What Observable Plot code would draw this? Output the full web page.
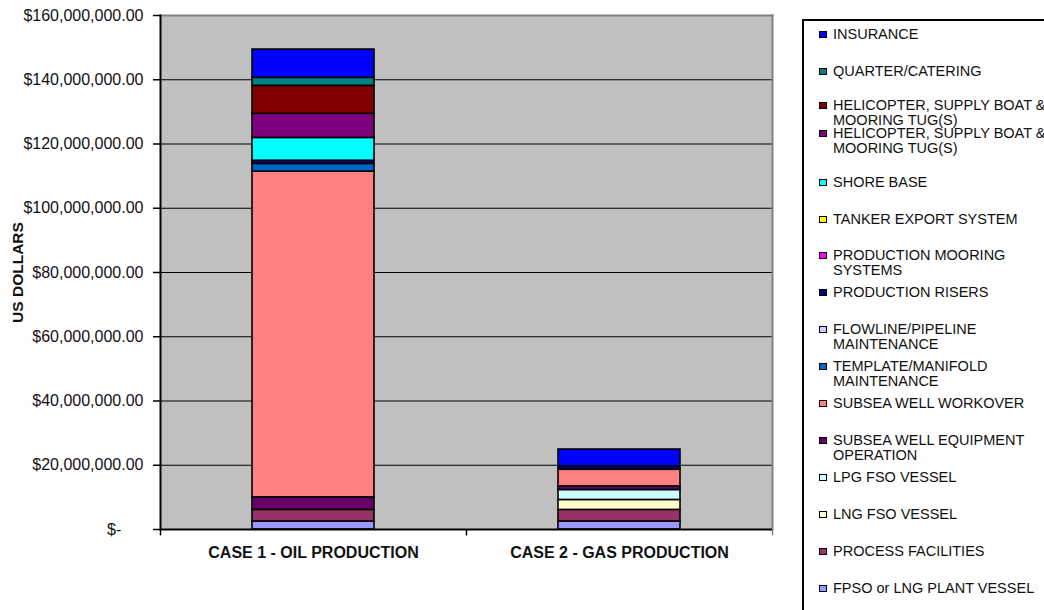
<!DOCTYPE html>
<html>
<head>
<meta charset="utf-8">
<script src="https://cdn.jsdelivr.net/npm/d3@7"></script>
<script src="https://cdn.jsdelivr.net/npm/@observablehq/plot@0.6"></script>
<style>
  html, body { margin: 0; padding: 0; background: #fff; overflow: hidden; }
  #chart { position: relative; width: 1044px; height: 610px; font-family: Arial, "Liberation Sans", sans-serif; }
  #chart svg { position: absolute; left: 0; top: 0; }
  #legend { position: absolute; left: 802px; top: 19px; width: 300px; height: 640px;
            border: 2px solid #000; box-sizing: border-box; background: #fff; }
  .item { position: absolute; left: 15px; display: flex; align-items: flex-start; }
  .swatch { width: 6px; height: 5px; border: 1.5px solid #000; margin-top: 4px; margin-right: 6px; flex: none; }
  .label { width: 222px; font-size: 14.5px; line-height: 15px; color: #111; }
</style>
</head>
<body>
<div id="chart"></div>
<script>
// Cases along the x axis
const cases = ["CASE 1 - OIL PRODUCTION", "CASE 2 - GAS PRODUCTION"];

// Cost items, listed from the bottom of each stack to the top
const costItems = [
  "FPSO or LNG PLANT VESSEL",
  "PROCESS FACILITIES",
  "LNG FSO VESSEL",
  "LPG FSO VESSEL",
  "SUBSEA WELL EQUIPMENT OPERATION",
  "SUBSEA WELL WORKOVER",
  "TEMPLATE/MANIFOLD MAINTENANCE",
  "FLOWLINE/PIPELINE MAINTENANCE",
  "PRODUCTION RISERS",
  "PRODUCTION MOORING SYSTEMS",
  "TANKER EXPORT SYSTEM",
  "SHORE BASE",
  "HELICOPTER, SUPPLY BOAT & MOORING TUG(S)",
  "HELICOPTER, SUPPLY BOAT & MOORING TUG(S)",
  "QUARTER/CATERING",
  "INSURANCE"
];

const itemColors = [
  "#9999FF", "#993366", "#FFFFCC", "#CCFFFF", "#660066", "#FF8080",
  "#0066CC", "#CCCCFF", "#000080", "#FF00FF", "#FFFF00", "#00FFFF",
  "#800080", "#800000", "#008080", "#0000FF"
];

// Annual costs in millions of US dollars, same order as costItems
const oilCosts = [2.5, 3.6, 0, 0, 3.9, 101.4, 2.4, 0, 1.0, 0, 0, 7.1, 7.5, 8.7, 2.5, 8.8];
const gasCosts = [2.5, 3.6, 3.1, 3.1, 1.1, 5.2, 0, 0, 1.0, 0, 0, 0, 0, 0, 0, 5.3];

// Y axis ticks in millions of dollars
const yTicksMillions = [0, 20, 40, 60, 80, 100, 120, 140, 160];

const costsByCase = [oilCosts, gasCosts];
const rows = [];
costItems.forEach((name, s) => {
  cases.forEach((c, k) => {
    const v = costsByCase[k][s];
    if (v > 0) rows.push({case: c, series: s, name, color: itemColors[s], cost: v * 1e6});
  });
});

const yTicks = yTicksMillions.map(d => d * 1e6);
const gridTicks = yTicks.filter(d => d > 0 && d < 160e6);

const W = 1044, H = 610;
const mL = 160, mR = 272, mT = 15, mB = 81;
const step = (W - mL - mR) / cases.length;
const nb = "\u00A0";
const money = d => d === 0 ? "$-" + nb.repeat(5) : "$" + d3.format(",.2f")(d);

const plot = Plot.plot({
  width: W,
  height: H,
  marginLeft: mL,
  marginRight: mR,
  marginTop: mT,
  marginBottom: mB,
  style: {fontFamily: "Arial, 'Liberation Sans', sans-serif", fontSize: "16px", color: "#111", background: "transparent"},
  x: {domain: cases, paddingInner: 0.6, paddingOuter: 0.3, label: null},
  y: {domain: [0, 160e6], label: null},
  color: {type: "identity"},
  marks: [
    Plot.frame({fill: "#C0C0C0"}),
    Plot.gridY(gridTicks, {stroke: "#000", strokeOpacity: 1, strokeWidth: 1}),
    Plot.barY(rows, {x: "case", y: "cost", z: "series", fill: "color", stroke: "#000", strokeWidth: 1.6, title: "name"}),
    Plot.frame({anchor: "top", stroke: "#808080", strokeWidth: 2}),
    Plot.frame({anchor: "right", stroke: "#808080", strokeWidth: 2}),
    Plot.frame({anchor: "left", stroke: "#000", strokeWidth: 2}),
    Plot.ruleY([0], {stroke: "#000", strokeWidth: 2}),
    // category boundary ticks below the baseline
    Plot.ruleX(cases, {x: d => d, dx: -step / 2, y1: 0, y2: -2e6, stroke: "#000", strokeWidth: 1.5}),
    Plot.ruleX(cases.slice(-1), {x: d => d, dx: step / 2, y1: 0, y2: -2e6, stroke: "#808080", strokeWidth: 1.5}),
    Plot.axisY({ticks: yTicks, tickSize: 7, tickPadding: 10, tickFormat: money, stroke: "#000", strokeWidth: 1.5, label: null}),
    Plot.axisX({tickSize: 0, tickPadding: 17, fontWeight: "bold", fontSize: 16, label: null}),
    Plot.text(["US DOLLARS"], {frameAnchor: "left", textAnchor: "middle", rotate: -90, dx: -142, fontWeight: "bold", fontSize: 15.5, fill: "#111"})
  ]
});

const chart = document.getElementById("chart");
chart.appendChild(plot);

// Legend: top entry is the top of the stack
const legend = document.createElement("div");
legend.id = "legend";
const slot = 36.9;
const nudge = {13: -3, 12: -12};
costItems.map((name, s) => ({name, s})).reverse().forEach((d, i) => {
  const item = document.createElement("div");
  item.className = "item";
  item.style.top = (33 + i * slot + (nudge[d.s] || 0) - 19 - 8) + "px";
  const sw = document.createElement("div");
  sw.className = "swatch";
  sw.style.background = itemColors[d.s];
  const lb = document.createElement("div");
  lb.className = "label";
  lb.textContent = d.name;
  item.appendChild(sw);
  item.appendChild(lb);
  legend.appendChild(item);
});
chart.appendChild(legend);
</script>
</body>
</html>
